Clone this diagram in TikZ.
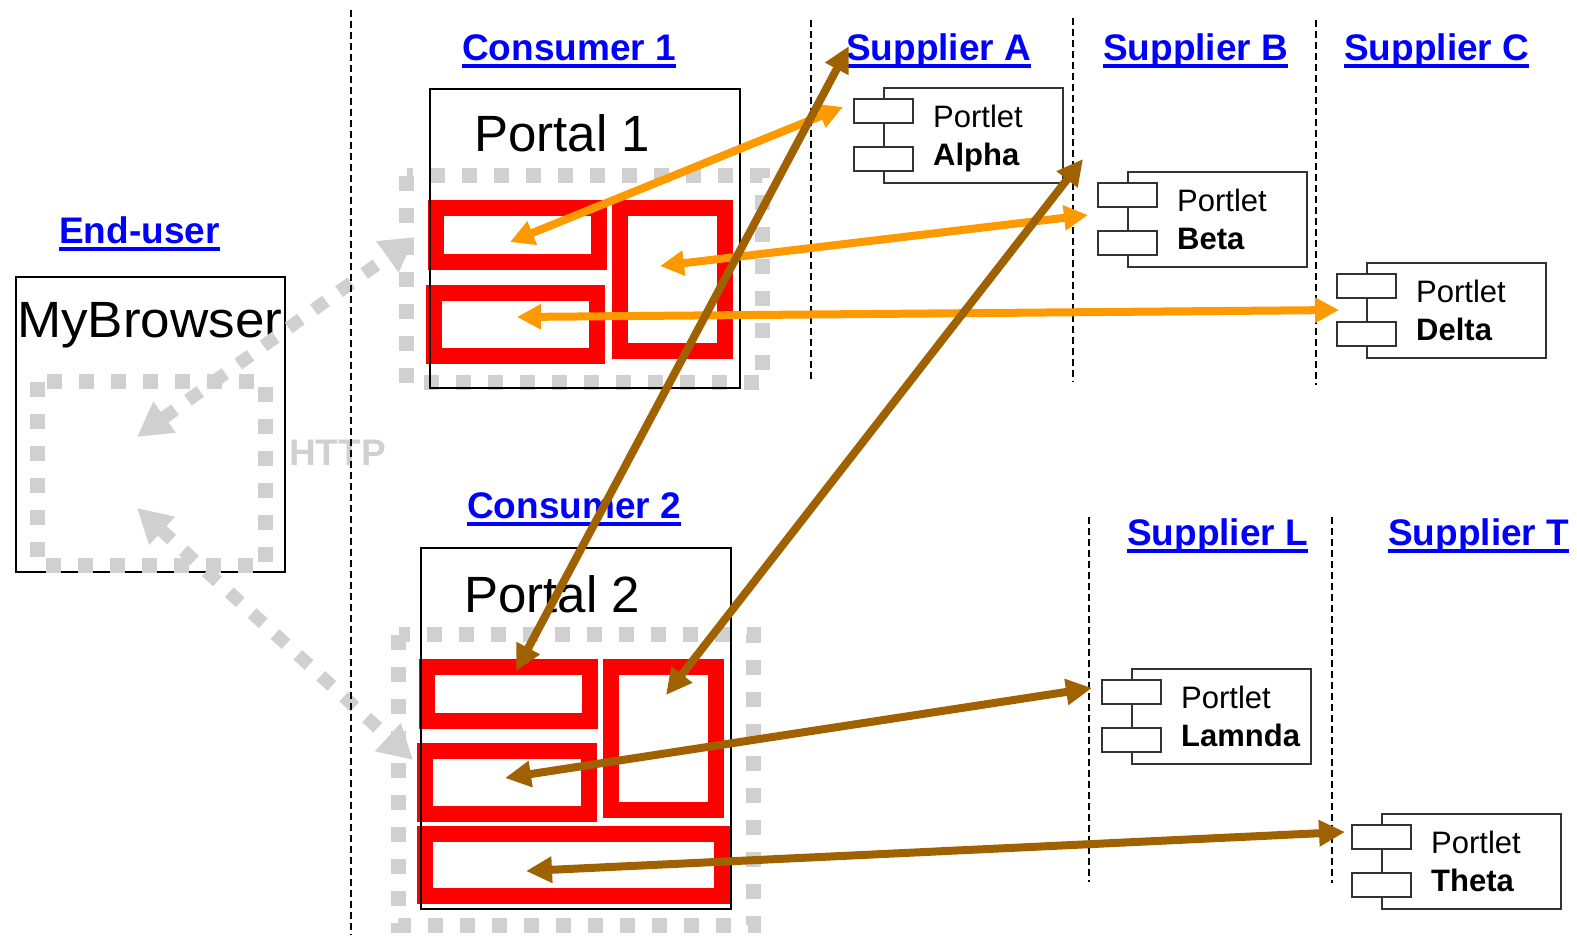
\documentclass[tikz,border=0pt]{standalone}
\usepackage{fontspec}
\setmainfont{Liberation Sans}
\usetikzlibrary{arrows.meta}
\definecolor{linkblue}{RGB}{0,0,255}
\definecolor{httpgray}{RGB}{208,208,208}
\definecolor{orangeA}{RGB}{255,153,0}
\definecolor{brownA}{RGB}{160,98,0}
\definecolor{redA}{RGB}{255,0,0}
\newcommand\myul[1]{\setbox0=\hbox{#1}\rlap{\copy0}\rule[-8pt]{\wd0}{4pt}}
\newcommand\portletbox[4]{%
  \node[pbox, anchor=north west] (#1) at (#2,#3) {};
  \node[pport, anchor=north west] (#1pa) at (#2-30,#3+11) {};
  \node[pport, anchor=north west] (#1pb) at (#2-30,#3+59) {};
  \node[ptext] (#1ta) at (#2+50,#3+40) {Portlet};
  \node[ptext, font=\fontsize{31}{36}\selectfont\bfseries] (#1tb) at (#2+50,#3+78) {#4};
}
\begin{document}
\begin{tikzpicture}[x=1pt,y=-1pt,
  title/.style={anchor=base west, inner sep=0pt, text=linkblue, font=\fontsize{37}{44}\selectfont\bfseries},
  bigtext/.style={anchor=base west, inner sep=0pt, font=\fontsize{51}{60}\selectfont},
  bbox/.style={draw=black, line width=2pt, inner sep=0pt, anchor=north west},
  pbox/.style={draw=black!80, line width=1.5pt, minimum width=179pt, minimum height=95pt, inner sep=0pt},
  pport/.style={draw=black!80, fill=white, line width=1.5pt, minimum width=59pt, minimum height=24pt, inner sep=0pt},
  ptext/.style={anchor=base west, inner sep=0pt, font=\fontsize{31}{36}\selectfont},
  httpdots/.style={draw=httpgray, line width=15pt, dash pattern=on 15pt off 17pt},
  httparrow/.style={draw=httpgray, line width=13pt, dash pattern=on 15pt off 16pt,
     {Triangle[length=34pt,width=36pt]}-{Triangle[length=34pt,width=36pt]}},
  redbox/.style={draw=redA, line width=16pt},
  sepline/.style={draw=black, line width=2.2pt, dash pattern=on 7pt off 4pt},
  orarrow/.style={draw=orangeA, line width=8pt,
     {Triangle[length=24pt,width=24pt]}-{Triangle[length=24pt,width=24pt]}},
  brarrow/.style={draw=brownA, line width=8pt,
     {Triangle[length=26pt,width=25pt]}-{Triangle[length=26pt,width=25pt]}}
]
\useasboundingbox (0,0) rectangle (1577,935);

% titles
\node[title] (tend) at (59,243) {\myul{End-user}};
\node[title] (tc1) at (462,60) {\myul{Consumer 1}};
\node[title] (tsa) at (846,60) {\myul{Supplier A}};
\node[title] (tsb) at (1103,60) {\myul{Supplier B}};
\node[title] (tsc) at (1344,60) {\myul{Supplier C}};
\node[title] (tc2) at (467,518) {\myul{Consumer 2}};
\node[title] (tsl) at (1127,545) {\myul{Supplier L}};
\node[title] (tst) at (1388,545) {\myul{Supplier T}};

% browser
\node[bbox, minimum width=269pt, minimum height=295pt] (browser) at (15,276) {};
\node[bigtext] (browsertxt) at (17,337) {\scalebox{1.04}[1]{MyBrowser}};

% gray dotted areas
\draw[httpdots] (37.5,381.5) rectangle (265.5,565.5);
\draw[httpdots] (406.5,175.5) rectangle (762.5,382.5);
\draw[httpdots] (398.5,634.5) rectangle (753.5,925);

% red portlet windows, portal 1
\draw[redbox] (435.5,208) rectangle (599,262);
\draw[redbox] (620,208) rectangle (725,351);
\draw[redbox] (433.5,293) rectangle (597,355.5);
% portal 2
\draw[redbox] (426.5,667) rectangle (590,721);
\draw[redbox] (610.5,667) rectangle (715.5,810);
\draw[redbox] (424.5,751) rectangle (589,814);
\draw[redbox] (424.5,833.5) rectangle (721.5,895.5);

% portal boxes
\node[bbox, minimum width=310pt, minimum height=299pt] (portal1) at (429,88) {};
\node[bbox, minimum width=310pt, minimum height=361pt] (portal2) at (420,547) {};
\node[bigtext] (p1txt) at (474,151) {Portal 1};
\node[bigtext] (p2txt) at (464,612) {Portal 2};

% HTTP label
\node[anchor=base west, inner sep=0pt, text=httpgray, font=\fontsize{37}{44}\selectfont\bfseries] (http) at (289,465) {HTTP};

% HTTP arrows
\coordinate (g1a) at (137,437);
\coordinate (g1b) at (415,237);
\coordinate (g2a) at (137,508);
\coordinate (g2b) at (413,760);
\draw[httparrow] (g1a) -- (g1b);
\draw[httparrow] (g2a) -- (g2b);

% separator lines
\draw[sepline] (351,10) -- (351,935);
\draw[sepline] (811,20) -- (811,382);
\draw[sepline] (1073,18) -- (1073,382);
\draw[sepline] (1316,20) -- (1316,385);
\draw[sepline] (1089,517) -- (1089,882);
\draw[sepline] (1332,517) -- (1332,883);

% portlets
\portletbox{alpha}{883}{87}{Alpha}
\portletbox{beta}{1127}{171}{Beta}
\portletbox{delta}{1366}{262}{Delta}
\portletbox{lamnda}{1131}{668}{Lamnda}
\portletbox{theta}{1381}{813}{Theta}

% arrow ends
\coordinate (o1a) at (510,242);
\coordinate (o1b) at (843,107);
\coordinate (o2a) at (660,266);
\coordinate (o2b) at (1088,215);
\coordinate (o3a) at (517,317);
\coordinate (o3b) at (1339,310);
\coordinate (b1a) at (516,671);
\coordinate (b1b) at (849,46);
\coordinate (b2a) at (666,695);
\coordinate (b2b) at (1083,159);
\coordinate (b3a) at (505,778);
\coordinate (b3b) at (1092,688);
\coordinate (b4a) at (526,871);
\coordinate (b4b) at (1345,832);

\draw[orarrow] (o1a) -- (o1b);
\draw[orarrow] (o2a) -- (o2b);
\draw[orarrow] (o3a) -- (o3b);
\draw[brarrow] (b1a) -- (b1b);
\draw[brarrow] (b2a) -- (b2b);
\draw[brarrow] (b3a) -- (b3b);
\draw[brarrow] (b4a) -- (b4b);
\end{tikzpicture}
\end{document}
